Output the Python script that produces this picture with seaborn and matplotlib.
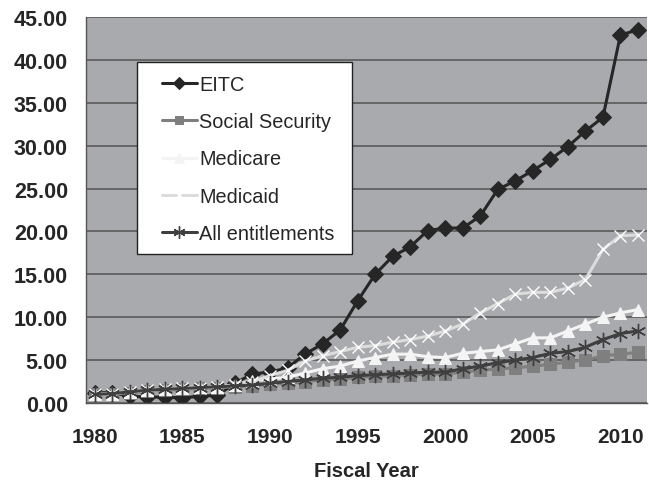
import matplotlib
matplotlib.use("Agg")
import matplotlib.pyplot as plt
from matplotlib.patches import Rectangle
import seaborn as sns
import pandas as pd

years = list(range(1980, 2012))

eitc = [1.2, 1.2, 0.8, 0.7, 0.7, 0.6, 0.8, 0.9, 2.3, 3.4,
        3.6, 4.1, 5.7, 6.9, 8.5, 11.9, 15.0, 17.1, 18.2, 20.1,
        20.4, 20.4, 21.8, 24.9, 25.9, 27.1, 28.4, 29.9, 31.7, 33.3,
        42.9, 43.5]
social_security = [1.0, 1.1, 1.2, 1.4, 1.5, 1.6, 1.7, 1.8, 1.9, 2.0,
                   2.2, 2.3, 2.5, 2.7, 2.8, 3.0, 3.1, 3.2, 3.3, 3.4,
                   3.4, 3.6, 3.8, 4.0, 4.1, 4.3, 4.5, 4.8, 5.0, 5.5,
                   5.7, 5.9]
medicare = [1.0, 1.1, 1.3, 1.5, 1.6, 1.8, 1.9, 1.9, 2.1, 2.6,
            2.8, 3.0, 3.5, 4.0, 4.3, 4.9, 5.3, 5.7, 5.7, 5.4,
            5.3, 5.8, 6.0, 6.2, 6.9, 7.6, 7.6, 8.4, 9.2, 10.0,
            10.5, 10.9]
medicaid = [1.0, 1.1, 1.3, 1.5, 1.6, 1.7, 1.8, 1.9, 2.1, 2.5,
            3.2, 3.8, 4.9, 5.5, 6.0, 6.5, 6.7, 7.1, 7.4, 7.8,
            8.4, 9.2, 10.5, 11.6, 12.7, 12.9, 12.9, 13.4, 14.4, 17.9,
            19.5, 19.6]
all_entitlements = [1.0, 1.1, 1.3, 1.5, 1.6, 1.7, 1.8, 1.9, 2.0, 2.1,
                    2.3, 2.5, 2.7, 2.9, 3.0, 3.2, 3.3, 3.4, 3.5, 3.6,
                    3.6, 4.0, 4.3, 4.7, 5.0, 5.3, 5.8, 6.0, 6.5, 7.4,
                    8.1, 8.4]

series = {
    "EITC": eitc,
    "Social Security": social_security,
    "Medicare": medicare,
    "Medicaid": medicaid,
    "All entitlements": all_entitlements,
}

styles = {
    "EITC": dict(color="#262626", marker="D", markersize=8,
                 markeredgecolor="#262626", linewidth=2.2),
    "Social Security": dict(color="#7f7f7f", marker="s", markersize=8,
                            markeredgecolor="#7f7f7f", linewidth=2.2),
    "Medicare": dict(color="#f4f4f4", marker="^", markersize=9,
                     markeredgecolor="#f4f4f4", linewidth=2.2),
    "Medicaid": dict(color="#dcdcdc", marker="x", markersize=9,
                     markeredgewidth=1.0, linewidth=2.2),
    "All entitlements": dict(color="#3f3f3f", marker=(6, 2, 0), markersize=11,
                             markeredgecolor="#3f3f3f", markeredgewidth=1.0,
                             linewidth=2.2),
}

df = pd.DataFrame(
    [(y, name, v) for name, vals in series.items() for y, v in zip(years, vals)],
    columns=["year", "program", "value"],
)

sns.set_style("white")
plt.rcParams["font.family"] = ["Liberation Sans", "DejaVu Sans"]

fig = plt.figure(figsize=(6.49, 4.81), dpi=100)
ax = fig.add_axes([0.1325, 0.160, 0.864, 0.8026])
ax.set_facecolor("#a9aaae")

for name in series:
    sub = df[df["program"] == name]
    sns.lineplot(data=sub, x="year", y="value", ax=ax, label=name,
                 **styles[name])

ax.set_xlim(1979.5, 2011.5)
ax.set_ylim(0, 45)

ax.set_yticks(range(0, 46, 5))
ax.set_yticklabels([f"{v:.2f}" for v in range(0, 46, 5)],
                   fontsize=15.5, fontweight="bold")
ax.yaxis.grid(True, color="#535353", linewidth=1.1)
ax.set_axisbelow(True)

ax.set_xticks(range(1980, 2012, 5))
ax.set_xticklabels([str(y) for y in range(1980, 2012, 5)],
                   fontsize=15, fontweight="bold")
ax.set_xticks([y + 0.5 for y in range(1979, 2012)], minor=True)
ax.tick_params(axis="x", which="major", length=0, pad=17)
ax.tick_params(axis="x", which="minor", length=7, width=0.8, color="#333333",
               direction="out")
ax.tick_params(axis="y", length=7, width=0.8, color="#333333", pad=6,
               direction="out")

ax.set_xlabel("Fiscal Year", fontsize=14.5, fontweight="bold", labelpad=11)
ax.set_ylabel("")

for side in ["top", "right"]:
    ax.spines[side].set_visible(False)
for side in ["left", "bottom"]:
    ax.spines[side].set_color("#555555")
    ax.spines[side].set_linewidth(1.0)

# white legend panel with a dark outline, drawn above the series
panel = Rectangle((0.091, 0.386), 0.3834, 0.4974, transform=ax.transAxes,
                  facecolor="white", edgecolor="#222222", linewidth=1.0,
                  zorder=4.5, clip_on=False)
ax.add_patch(panel)

leg = ax.legend(loc="upper left", bbox_to_anchor=(0.1355, 0.851),
                fontsize=14.3, frameon=False, handlelength=1.75,
                handletextpad=0.12, labelspacing=0.93, borderpad=0,
                borderaxespad=0, markerscale=0.8)
leg.set_zorder(5)

fig.savefig("out.png", dpi=100, facecolor="white")
